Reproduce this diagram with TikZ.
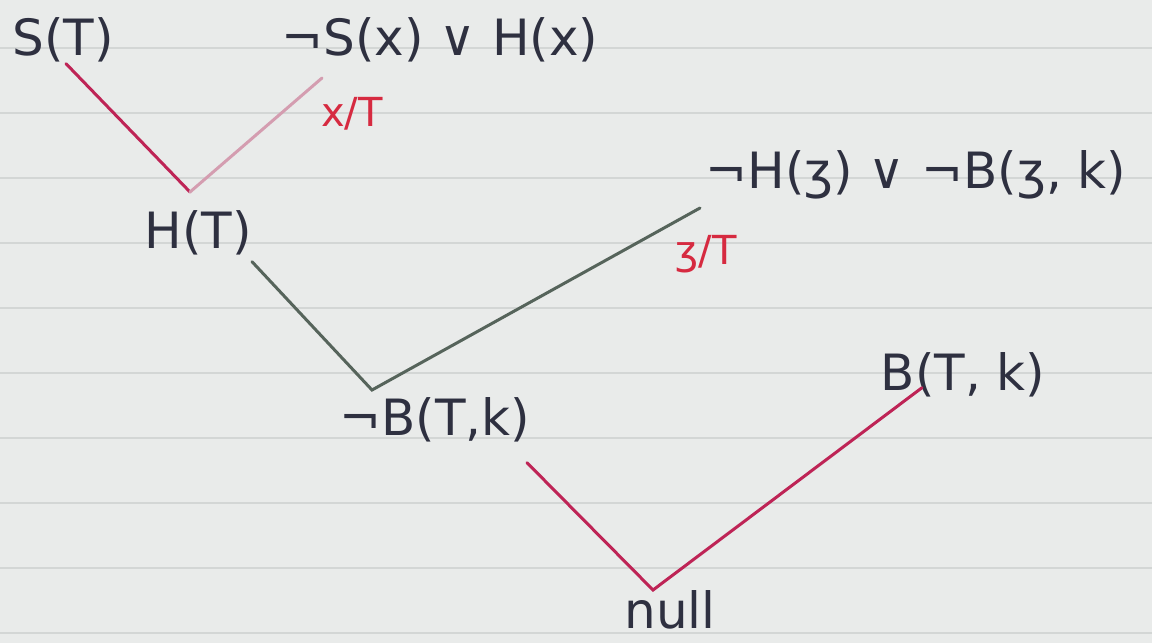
\documentclass[tikz,border=0pt]{standalone}
\usepackage{fontspec}
\setmainfont{DejaVu Sans}
\definecolor{paper}{HTML}{E9EBEA}
\definecolor{rule}{HTML}{D3D6D5}
\definecolor{ink}{HTML}{2E3040}
\definecolor{crim}{HTML}{BE2456}
\definecolor{pinkl}{HTML}{D49DB0}
\definecolor{gline}{HTML}{56645B}
\definecolor{redlab}{HTML}{D62A40}
\tikzset{
  term/.style={inner sep=0pt, text=ink, font=\fontsize{25}{27}\selectfont},
  sub/.style={inner sep=0pt, text=redlab, font=\fontsize{20}{22}\selectfont},
  edge/.style={line width=1.5pt, line cap=round},
}
\begin{document}
\begin{tikzpicture}[x=0.5pt,y=-0.5pt]
\useasboundingbox (0,0) rectangle (1152,643);
\fill[paper] (0,0) rectangle (1152,643);
\foreach \yy in {48,113,178,243,308,373,438,503,568,633}
  \draw[rule, line width=0.8pt] (0,\yy) -- (1152,\yy);
% nodes
\node[term] (sT) at (63,40) {S(T)};
\node[term] (c1) at (440,40) {¬S(x) ∨ H(x)};
\node[sub] (s1) at (352,114) {x/T};
\node[term] (hT) at (198,233) {H(T)};
\node[term] (c2) at (916,175) {¬H(ʒ) ∨ ¬B(ʒ, k)};
\node[sub] (s2) at (706,254) {ʒ/T};
\node[term] (nB) at (435,420) {¬B(T,k)};
\node[term] (bT) at (963,375) {B(T, k)};
\node[term] (nul) at (670,610) {null};
% vertices and ends
\coordinate (v1) at (190,192);
\coordinate (e1) at (322,78);
\coordinate (v2) at (372,390);
\coordinate (e2) at (700,208);
\coordinate (v3) at (653,590);
% connectors
\draw[edge, crim] ([shift={(3,1)}]sT.south) -- (v1);
\draw[edge, pinkl] (v1) -- (e1);
\draw[edge, gline] ([shift={(54,6)}]hT.south) -- (v2) -- (e2);
\draw[edge, crim] ([shift={(92,20)}]nB.south) -- (v3) -- ([shift={(-41,-10)}]bT.south);
\end{tikzpicture}
\end{document}
